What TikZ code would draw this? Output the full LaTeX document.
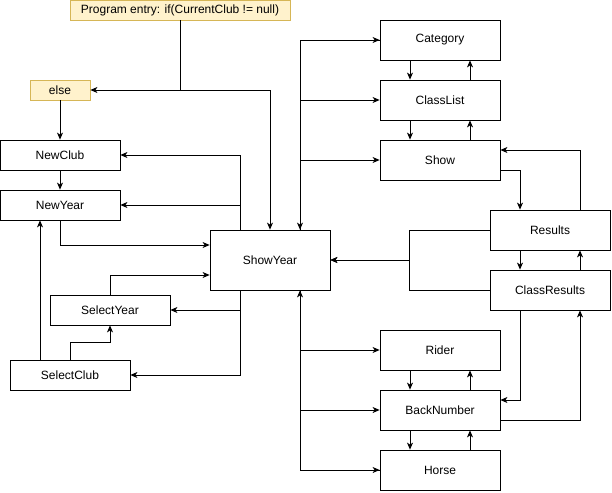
\documentclass[tikz,border=0pt]{standalone}
\usepackage{fontspec}
\setmainfont{Liberation Sans}
\usetikzlibrary{arrows.meta}
\usepackage{xcolor}
\definecolor{notefill}{HTML}{FFF2CC}
\definecolor{noteline}{HTML}{D6B656}

\begin{document}
\begin{tikzpicture}[x=1pt, y=-1pt, line width=0.8pt, >={Stealth[length=7pt,width=6pt,inset=2pt]},
    main/.style = {draw, rectangle, inner sep=0pt, minimum width=120pt, minimum height=40pt, font=\fontsize{12}{14}\selectfont},
    small/.style = {main, minimum height=30pt},
    note/.style = {main, fill=notefill, draw=noteline, minimum height=20pt}]
           \useasboundingbox (0,0) rectangle (612,492);

           \node[note, minimum width=220pt] (1) at (180,10) {Program entry: if(CurrentClub != null)};
           \node[note, minimum width=60pt] (2) at (60,90) {else};
           \node[small] (3) at (60,155)  {NewClub};
           \node[small] (4) at (60,205)  {NewYear};
           \node[small] (5) at (110,310) {SelectYear};
           \node[small] (6) at (70,375)  {SelectClub};
           \node[main, minimum height=60pt] (7) at (270,260) {ShowYear};
           \node[main] (8) at (440,40)   {Category};
           \node[main] (9) at (440,100)  {ClassList};
           \node[main] (10) at (440,160) {Show};
           \node[main] (11) at (550,230) {Results};
           \node[main] (12) at (550,290) {ClassResults};
           \node[main] (13) at (440,350) {Rider};
           \node[main] (14) at (440,410) {BackNumber};
           \node[main] (15) at (440,470) {Horse};

           % entry point
           \draw[->] (1.south) |- (2.east);
           \draw[->] (1.south) -- (1.south |- 2.east) -| (7.north);
           \path[->]
           (2) edge (3)
           (3) edge (4);

           % left side
           \draw[->] ([xshift=-30pt]7.north) |- (3.east);
           \draw[->] ([xshift=-30pt]7.north) |- (4.east);
           \draw[->] (4.south) |- ([yshift=15pt]7.west);
           \draw[->] (5.north) |- ([yshift=-15pt]7.west);
           \draw[->] ([xshift=-30pt]7.south) |- (5.east);
           \draw[->] ([xshift=-30pt]7.south) |- (6.east);
           \draw[->] (6.north) -- ++(0,-17) -| (5.south);
           \draw[->] ([xshift=-30pt]6.north) -- ([xshift=-20pt]4.south);

           % upper right
           \draw[->] ([xshift=30pt]7.north) |- (8.west);
           \draw[->] ([xshift=30pt]7.north) |- (9.west);
           \draw[->] ([xshift=30pt]7.north) |- (10.west);
           \draw[->] (8.west) -| ([xshift=30pt]7.north);
           \draw[->] ([xshift=-30pt]8.south) -- ([xshift=-30pt]9.north);
           \draw[->] ([xshift=30pt]9.north) -- ([xshift=30pt]8.south);
           \draw[->] ([xshift=-30pt]9.south) -- ([xshift=-30pt]10.north);
           \draw[->] ([xshift=30pt]10.north) -- ([xshift=30pt]9.south);
           \draw[->] ([yshift=-10pt]10.east) -| ([xshift=-30pt]11.north);
           \draw[->] ([xshift=30pt]11.north) |- ([yshift=10pt]10.east);

           % results
           \draw[->] ([xshift=-30pt]11.south) -- ([xshift=-30pt]12.north);
           \draw[->] ([xshift=30pt]12.north) -- ([xshift=30pt]11.south);
           \draw[->] (11.west) -- ++(-80,0) |- (7.east);
           \draw[->] (12.west) -- ++(-80,0) |- (7.east);
           \draw[->] ([xshift=-30pt]12.south) |- ([yshift=10pt]14.east);
           \draw[->] ([yshift=-10pt]14.east) -| ([xshift=30pt]12.south);

           % lower right
           \draw[->] ([xshift=30pt]7.south) |- (13.west);
           \draw[->] ([xshift=30pt]7.south) |- (14.west);
           \draw[->] ([xshift=30pt]7.south) |- (15.west);
           \draw[->] (15.west) -| ([xshift=30pt]7.south);
           \draw[->] ([xshift=-30pt]13.south) -- ([xshift=-30pt]14.north);
           \draw[->] ([xshift=30pt]14.north) -- ([xshift=30pt]13.south);
           \draw[->] ([xshift=-30pt]14.south) -- ([xshift=-30pt]15.north);
           \draw[->] ([xshift=30pt]15.north) -- ([xshift=30pt]14.south);
         \end{tikzpicture}
\end{document}
